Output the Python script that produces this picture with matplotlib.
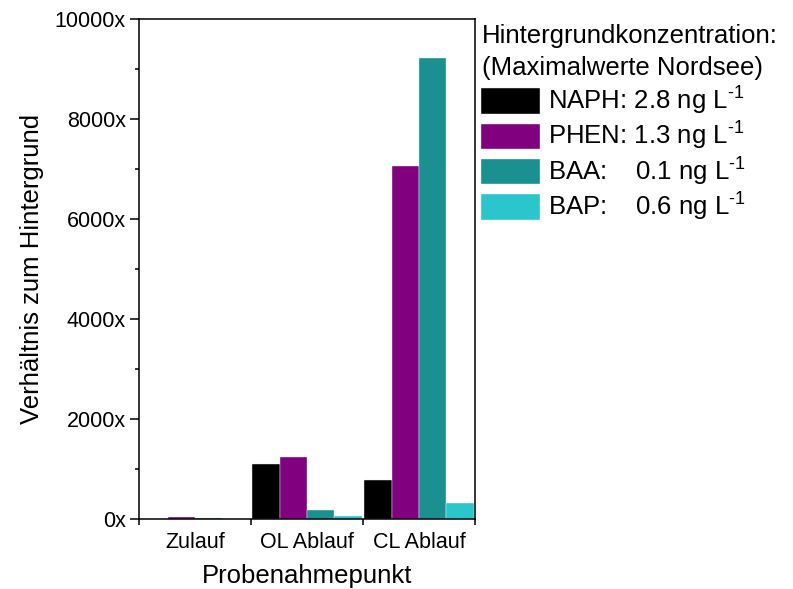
import matplotlib
matplotlib.use("Agg")
import matplotlib.pyplot as plt
import numpy as np
from matplotlib.ticker import MultipleLocator, FuncFormatter, FixedLocator

plt.rcParams['font.family'] = ['Liberation Sans', 'DejaVu Sans']
plt.rcParams['mathtext.fontset'] = 'custom'
plt.rcParams['mathtext.rm'] = 'Liberation Sans'
plt.rcParams['mathtext.it'] = 'Liberation Sans:italic'
plt.rcParams['mathtext.bf'] = 'Liberation Sans:bold'

categories = ["Zulauf", "OL Ablauf", "CL Ablauf"]
legend_title = "Hintergrundkonzentration:\n(Maximalwerte Nordsee)"
series_names = ["NAPH: 2.8 ng L$^{\\text{-}1}$", "PHEN: 1.3 ng L$^{\\text{-}1}$",
                "BAA:    0.1 ng L$^{\\text{-}1}$", "BAP:    0.6 ng L$^{\\text{-}1}$"]
naph = [0, 1100, 790]
phen = [40, 1235, 7060]
baa = [20, 175, 9230]
bap = [0, 65, 320]
colors = ["#000000", "#800080", "#1a9090", "#2ac6cc"]

fig = plt.figure(figsize=(7.93, 5.89), dpi=100)
ax = fig.add_axes([139/793, 1-519/589, (475-139)/793, 500/589])

x = np.arange(len(categories))
w = 0.245
for i, (vals, name, c) in enumerate(zip([naph, phen, baa, bap], series_names, colors)):
    ax.bar(x + (i - 1.5) * w, vals, width=w, color=c, edgecolor='#e8f4f4',
           linewidth=0.3, label=name)

ax.set_xlim(-0.5, 2.5)
ax.set_ylim(0, 10000)
ax.yaxis.set_major_locator(MultipleLocator(2000))
ax.yaxis.set_minor_locator(MultipleLocator(1000))
ax.yaxis.set_major_formatter(FuncFormatter(lambda v, p: f"{int(v)}x"))
ax.set_xticks(x)
ax.set_xticklabels(categories)
ax.xaxis.set_minor_locator(FixedLocator([-0.5, 0.5, 1.5, 2.5]))

for s in ax.spines.values():
    s.set_linewidth(1.1)
ax.tick_params(axis='y', which='major', direction='out', length=6.5, width=1.1, labelsize=15.5, pad=3)
ax.tick_params(axis='y', which='minor', direction='out', length=3, width=1.1)
ax.tick_params(axis='x', which='major', length=0, labelsize=15.5, pad=9)
ax.tick_params(axis='x', which='minor', direction='out', length=4, width=1.1)

ax.set_xlabel("Probenahmepunkt", fontsize=18.5, labelpad=8)
ax.set_ylabel("Verhältnis zum Hintergrund", fontsize=18.5, labelpad=8)

fig.text(482/793, 1-24/589, legend_title, fontsize=18.5, va='top', ha='left',
         linespacing=1.43)
leg = ax.legend(loc='upper left', bbox_to_anchor=(481/793, 1-85/589),
                bbox_transform=fig.transFigure, frameon=False, fontsize=18.5,
                handlelength=2.3, handleheight=1.13, labelspacing=0.12,
                handletextpad=0.3, borderpad=0, borderaxespad=0)
for h in leg.legend_handles:
    h.set_edgecolor('#e8f4f4')
    h.set_linewidth(0.3)

fig.savefig("out.png", dpi=100)
